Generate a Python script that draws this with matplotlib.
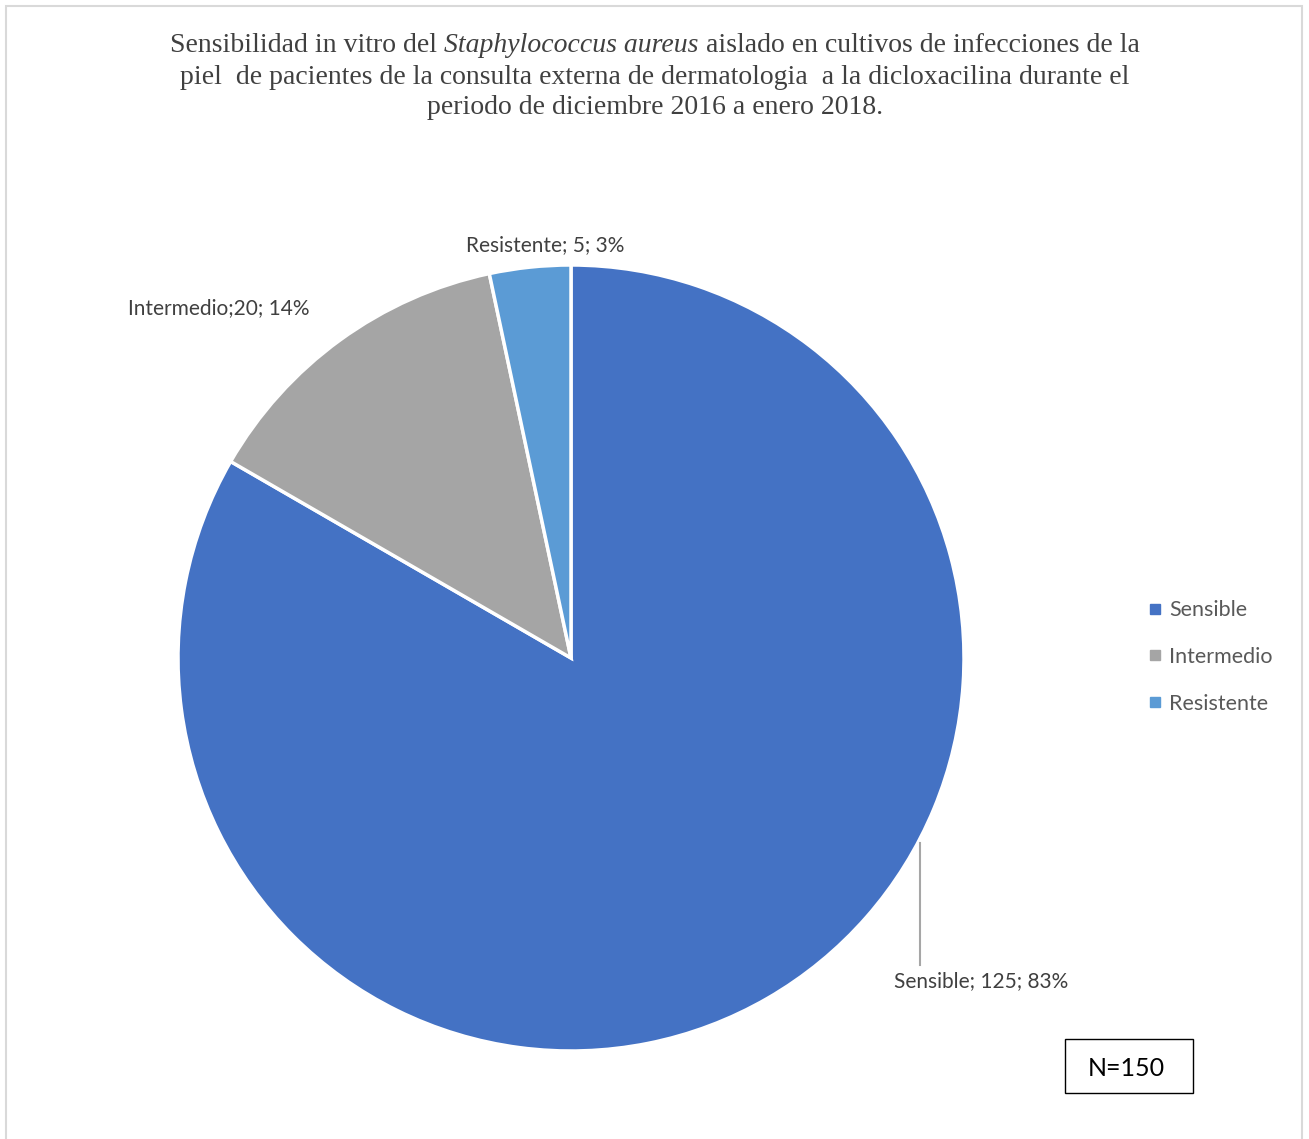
import numpy as np
import matplotlib.pyplot as plt
from matplotlib.patches import Rectangle
from matplotlib.lines import Line2D

categorias = ['Sensible', 'Intermedio', 'Resistente']
casos = [125, 20, 5]
porcentajes = [83, 14, 3]
colores = ['#4472C4', '#A5A5A5', '#5B9BD5']
total = 150

W, H = 1309, 1139
fig = plt.figure(figsize=(W / 100, H / 100), dpi=100)
ax = fig.add_axes([0, 0, 1, 1])

# Pie centrado y con radio en pixeles (eje y hacia arriba)
cx, cy, r = 571, H - 658, 393
wedges, _ = ax.pie(casos, colors=colores, startangle=90, counterclock=False,
                   center=(cx, cy), radius=r, frame=True,
                   wedgeprops=dict(edgecolor='white', linewidth=2.5))
ax.set_xlim(0, W)
ax.set_ylim(0, H)
ax.set_aspect('equal')
ax.axis('off')

fuente = 'Lato'
txt_kw = dict(fontsize=15, family=fuente, color='#404040')

# Etiquetas de datos
etiquetas = ['%s; %d; %d%%' % (c, n, p) for c, n, p in zip(categorias, casos, porcentajes)]
etiquetas[1] = etiquetas[1].replace('; ', ';', 1)

# Resistente: arriba del pie
ax.text(545, H - 245, etiquetas[2], ha='center', va='center', **txt_kw)
# Intermedio: afuera de su sector, a la mitad del angulo
w = wedges[1]
ang = np.deg2rad((w.theta1 + w.theta2) / 2)
ax.text(cx + 1.13 * r * np.cos(ang), cy + 1.1 * r * np.sin(ang), etiquetas[1],
        ha='right', va='center', **txt_kw)
# Sensible: abajo a la derecha con linea guia
ax.plot([920, 920], [H - 843, H - 965], color='#A6A6A6', lw=1.5)
ax.text(981, H - 981, etiquetas[0], ha='center', va='center', **txt_kw)

# Titulo con el nombre de la bacteria en cursiva
serif = 'Liberation Serif'
tsize = 20
fig.canvas.draw()
ren = fig.canvas.get_renderer()
partes = [('Sensibilidad in vitro del ', 'normal'),
          ('Staphylococcus aureus', 'italic'),
          (' aislado en cultivos de infecciones de la', 'normal')]
objs = [fig.text(0, 0, s, fontsize=tsize, family=serif, style=st, color='#404040')
        for s, st in partes]
anchos = [o.get_window_extent(ren).width for o in objs]
x0 = 655 - sum(anchos) / 2
for o, ancho in zip(objs, anchos):
    o.set_position((x0 / W, 1 - 45 / H))
    o.set_va('center')
    x0 += ancho
fig.text(655 / W, 1 - 77 / H,
         'piel  de pacientes de la consulta externa de dermatologia  a la dicloxacilina durante el',
         fontsize=tsize, family=serif, color='#404040', ha='center', va='center')
fig.text(655 / W, 1 - 108 / H, 'periodo de diciembre 2016 a enero 2018.',
         fontsize=tsize, family=serif, color='#404040', ha='center', va='center')

# Leyenda
handles = [Line2D([], [], marker='s', ls='', markersize=7, color=c) for c in colores]
fig.legend(handles, categorias, loc='center left',
           bbox_to_anchor=(1129 / W, 1 - 657 / H), frameon=False,
           prop=dict(family=fuente, size=15.5), labelcolor='#595959',
           handlelength=0.6, handletextpad=0.35, labelspacing=1.25)

# Cuadro con el tamano de muestra
ax.add_patch(Rectangle((1065, H - 1093), 128, 54, fill=False, ec='black', lw=1))
ax.text(1126, H - 1068, 'N=%d' % total, ha='center', va='center',
        fontsize=18, family=fuente, color='black')

# Borde del area del grafico
ax.add_patch(Rectangle((6, -5), 1296, H - 1, fill=False, ec='#D9D9D9', lw=1.5))

fig.savefig('out.png', dpi=100)
